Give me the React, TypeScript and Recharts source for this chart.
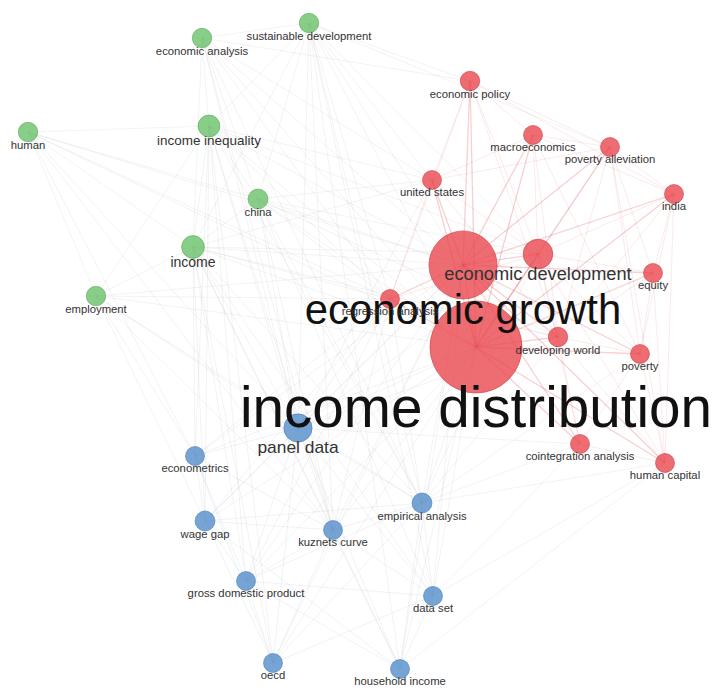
import React from 'react';
import { ScatterChart, Scatter, XAxis, YAxis, ZAxis } from 'recharts';

const labels = [
  'sustainable development', 'economic analysis', 'human', 'income inequality', 'china', 'income', 'employment',
  'economic policy', 'macroeconomics', 'poverty alleviation', 'united states', 'india', 'economic growth',
  'economic development', 'equity', 'regression analysis', 'developing world', 'poverty', 'income distribution',
  'cointegration analysis', 'human capital',
  'panel data', 'econometrics', 'empirical analysis', 'wage gap', 'kuznets curve', 'gross domestic product',
  'data set', 'oecd', 'household income',
];
const xs = [309, 202, 28, 209, 258, 193, 96, 470, 533, 610, 432, 674, 463, 538, 653, 390, 558, 640, 476, 580, 665, 298, 195, 422, 205, 333, 246, 433, 273, 400];
const ys = [23, 38, 132, 126, 199, 247, 296, 81, 135, 147, 180, 194, 265, 254, 273, 299, 337, 354, 347, 444, 463, 428, 456, 503, 521, 530, 581, 596, 663, 669];
const weights = [9.5, 9.5, 9.5, 12, 10, 13, 9.5, 9.5, 9, 9, 9, 9, 116, 22, 9, 9, 9.5, 9, 212, 9, 9, 20, 9, 10, 10, 9, 9, 9, 9, 9];
const clusters = [0, 0, 0, 0, 0, 0, 0, 1, 1, 1, 1, 1, 1, 1, 1, 1, 1, 1, 1, 1, 1, 2, 2, 2, 2, 2, 2, 2, 2, 2];

const edges: [number, number][] = [
  // income distribution links
  [18, 0], [18, 1], [18, 2], [18, 3], [18, 4], [18, 5], [18, 6], [18, 7], [18, 8], [18, 9], [18, 10], [18, 11], [18, 12],
  [18, 13], [18, 14], [18, 15], [18, 16], [18, 17], [18, 19], [18, 20], [18, 21], [18, 22], [18, 23], [18, 24], [18, 25],
  [18, 26], [18, 27], [18, 28], [18, 29],
  // economic growth links
  [12, 0], [12, 1], [12, 2], [12, 3], [12, 4], [12, 5], [12, 6], [12, 7], [12, 8], [12, 9], [12, 10], [12, 11], [12, 13],
  [12, 14], [12, 15], [12, 16], [12, 17], [12, 19], [12, 20], [12, 21], [12, 22], [12, 23], [12, 24], [12, 25], [12, 26],
  [12, 27], [12, 28], [12, 29],
  // green cluster
  [0, 1], [0, 3], [0, 4], [0, 5], [0, 7], [0, 9], [0, 10], [0, 15], [0, 21], [0, 23], [0, 25], [0, 27], [0, 29], [0, 13],
  [1, 3], [1, 4], [1, 5], [1, 7], [1, 10], [1, 15], [1, 21], [1, 23], [1, 25],
  [2, 3], [2, 4], [2, 5], [2, 6], [2, 21], [2, 22], [2, 25], [2, 15],
  [3, 4], [3, 5], [3, 6], [3, 10], [3, 15], [3, 21], [3, 22], [3, 23], [3, 24], [3, 25], [3, 26], [3, 28], [3, 13],
  [4, 5], [4, 10], [4, 15], [4, 16], [4, 21], [4, 23], [4, 25], [4, 13], [4, 27],
  [5, 6], [5, 10], [5, 15], [5, 16], [5, 21], [5, 22], [5, 23], [5, 24], [5, 25], [5, 26], [5, 27], [5, 28], [5, 29], [5, 13],
  [6, 21], [6, 22], [6, 24], [6, 15], [6, 23], [6, 25],
  // red cluster
  [7, 8], [7, 9], [7, 10], [7, 13], [7, 15], [7, 16], [7, 11],
  [8, 9], [8, 13], [8, 16], [8, 11], [8, 17], [8, 10],
  [9, 11], [9, 13], [9, 14], [9, 16], [9, 17], [9, 20], [9, 10],
  [10, 13], [10, 15], [10, 16], [10, 21],
  [11, 13], [11, 14], [11, 16], [11, 17], [11, 20],
  [13, 14], [13, 15], [13, 16], [13, 17], [13, 19], [13, 20], [13, 21], [13, 23],
  [14, 16], [14, 17], [14, 20],
  [15, 16], [15, 21], [15, 22], [15, 23], [15, 24], [15, 25], [15, 26],
  [16, 17], [16, 19], [16, 20], [16, 21], [16, 23],
  [17, 19], [17, 20], [17, 23],
  [19, 20], [19, 21], [19, 23], [19, 27],
  [20, 27], [20, 29], [20, 23],
  // blue cluster
  [21, 22], [21, 23], [21, 24], [21, 25], [21, 26], [21, 27], [21, 28], [21, 29],
  [22, 24], [22, 25], [22, 26], [22, 28],
  [23, 24], [23, 25], [23, 26], [23, 27], [23, 28], [23, 29],
  [24, 25], [24, 26], [24, 28], [24, 29],
  [25, 26], [25, 27], [25, 28], [25, 29],
  [26, 28], [26, 29], [26, 27],
  [27, 29], [27, 28],
];

const nodes = labels.map((name, i) => ({ name, x: xs[i], y: ys[i], w: weights[i], c: clusters[i] }));

const FILL = ['#66c066', '#e9444c', '#4f8bc8'];
const STROKE = ['#4fa54f', '#c9343b', '#3f78b3'];
const EDGE = ['#8fbf8f', '#e0585e', '#8fa9c6'];

const radiusOf = (props: any) => {
  if (props.width) return props.width / 2;
  return Math.sqrt((props.size || 0) / Math.PI);
};
const fontOf = (r: number) => (r < 10.5 ? 11.3 : 1.23 * r);

const NodeShape = (props: any) => {
  const { cx, cy, payload } = props;
  const r = radiusOf(props);
  return (
    <circle cx={cx} cy={cy} r={r} fill={FILL[payload.c]} fillOpacity={0.78} stroke={STROKE[payload.c]} strokeOpacity={0.55} strokeWidth={1} />
  );
};

const LabelShape = (props: any) => {
  const { cx, cy, payload } = props;
  const r = radiusOf(props);
  const f = fontOf(r);
  return (
    <text x={cx} y={cy + r + 0.6 * f} textAnchor="middle" fontSize={f} fontFamily="'Liberation Sans', Arial, sans-serif" fill={f > 30 ? '#111' : '#333'}>
      {payload.name}
    </text>
  );
};

const Empty = () => <g />;

export default function App() {
  return (
    <div style={{ position: 'absolute', left: 0, top: 0, background: '#fff' }}>
      <ScatterChart width={716} height={690} margin={{ top: 0, right: 0, bottom: 0, left: 0 }}>
        <XAxis type="number" dataKey="x" domain={[0, 716]} hide />
        <YAxis type="number" dataKey="y" domain={[0, 690]} reversed hide />
        <ZAxis type="number" dataKey="w" domain={[0, 220]} range={[0, 6908]} />
        {edges.map(([a, b], i) => {
          const sameRed = clusters[a] === 1 && clusters[b] === 1;
          const same = clusters[a] === clusters[b];
          const hub = a === 12 || a === 18 || b === 12 || b === 18;
          const stroke = sameRed ? EDGE[1] : same ? EDGE[clusters[a]] : '#a8a8a8';
          const op = sameRed ? (hub ? 0.28 : 0.16) : 0.18;
          const sw = sameRed && hub ? 1.3 : 0.8;
          return (
            <Scatter
              key={'e' + i}
              data={[nodes[a], nodes[b]]}
              line={{ stroke, strokeWidth: sw, strokeOpacity: op }}
              shape={Empty}
              isAnimationActive={false}
            />
          );
        })}
        <Scatter data={nodes} shape={NodeShape} isAnimationActive={false} />
        <Scatter data={nodes} shape={LabelShape} isAnimationActive={false} />
      </ScatterChart>
    </div>
  );
}
